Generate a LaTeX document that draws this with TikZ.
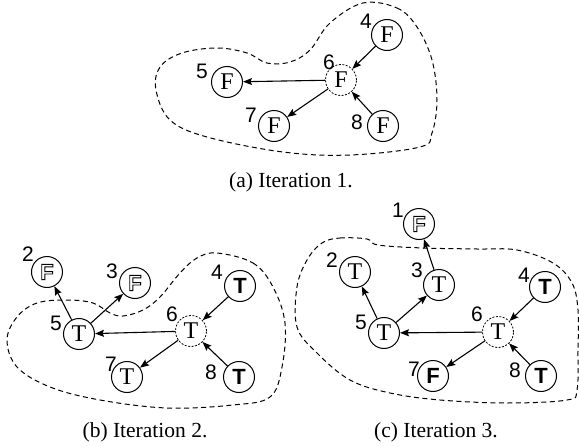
\documentclass[tikz,border=0pt]{standalone}
\usepackage{fontspec}
\setmainfont{Liberation Serif}
\setsansfont{Liberation Sans}
\usetikzlibrary{arrows.meta}
\newcommand{\hollowF}{\special{pdf:literal direct 1 Tr 0.9 w}{\sffamily\bfseries F}\special{pdf:literal direct 0 Tr}}
\begin{document}
\begin{tikzpicture}[x=1pt,y=-1pt,
  nd/.style={circle,draw,line width=1pt,minimum size=31pt,inner sep=0pt,font=\fontsize{24}{24}\selectfont},
  dnd/.style={nd,dash pattern=on 2pt off 1.5pt,line width=0.8pt},
  bd/.style={nd,font=\fontsize{22}{22}\selectfont\sffamily\bfseries},
  hf/.style={nd,font=\fontsize{22}{22}\selectfont},
  arr/.style={-{Stealth[length=9pt,width=7pt,inset=1.5pt]},line width=1.1pt},
  blob/.style={dash pattern=on 5pt off 3.5pt,line width=1pt},
  lab/.style={inner sep=0pt,font=\sffamily\fontsize{21}{21}\selectfont},
  capt/.style={inner sep=0pt,font=\fontsize{21.5}{22}\selectfont}]
\useasboundingbox (0,0) rectangle (579,447);
% ---------- (a)
\draw[blob] plot[smooth cycle,tension=0.6] coordinates {
 (363,3) (397,8) (417,27) (432,60) (437,100) (432,133) (420,147) (350,155) (283,152)
 (207,137) (170,120) (156,90) (160,67) (182,53) (217,48) (247,53) (267,63) (290,62)
 (310,50) (330,23)};
\node[nd] (a4) at (387,35) {F};
\node[dnd] (a6) at (341,80) {F};
\node[nd] (a5) at (227,82) {F};
\node[nd] (a7) at (274,126) {F};
\node[nd] (a8) at (383,126) {F};
\node[lab] (a4l) at ([shift={(-21,-14)}]a4) {4};
\node[lab] (a6l) at ([shift={(-12,-18)}]a6) {6};
\node[lab] (a5l) at ([shift={(-25,-11)}]a5) {5};
\node[lab] (a7l) at ([shift={(-23,-11)}]a7) {7};
\node[lab] (a8l) at ([shift={(-26,-4)}]a8) {8};
\draw[arr] (a4) -- (a6);
\draw[arr] (a8) -- (a6);
\draw[arr] (a6) -- (a5);
\draw[arr] (a6) -- (a7);
\node[capt] (capa) at (291,182) {(a) Iteration 1.};
% ---------- (b)
\draw[blob] plot[smooth cycle,tension=0.6] coordinates {
 (217,253) (253,263) (273,287) (285,323) (282,367) (270,397) (233,405) (167,408)
 (100,400) (50,387) (17,367) (7,340) (17,317) (37,303) (67,300) (93,303) (110,313)
 (123,316) (143,310) (160,297) (180,273) (197,258)};
\node[hf] (b2) at (47,272) {\hollowF};
\node[hf] (b3) at (135,283) {\hollowF};
\node[bd] (b4) at (240,286) {T};
\node[nd] (b5) at (79,334) {T};
\node[dnd] (b6) at (191,331) {T};
\node[nd] (b7) at (127,377) {T};
\node[bd] (b8) at (239,377) {T};
\node[lab] (b2l) at ([shift={(-19,-18)}]b2) {2};
\node[lab] (b3l) at ([shift={(-23,-12)}]b3) {3};
\node[lab] (b4l) at ([shift={(-23,-14)}]b4) {4};
\node[lab] (b5l) at ([shift={(-23,-11)}]b5) {5};
\node[lab] (b6l) at ([shift={(-19,-17)}]b6) {6};
\node[lab] (b7l) at ([shift={(-16,-13)}]b7) {7};
\node[lab] (b8l) at ([shift={(-28,-5)}]b8) {8};
\draw[arr] (b4) -- (b6);
\draw[arr] (b8) -- (b6);
\draw[arr] (b6) -- (b5);
\draw[arr] (b6) -- (b7);
\draw[arr] (b5) -- (b2);
\draw[arr] (b5) -- (b3);
\node[capt] (capb) at (145,432) {(b) Iteration 2.};
% ---------- (c)
\draw[blob] plot[smooth cycle,tension=0.6] coordinates {
 (322,243) (340,238) (367,239) (378,245) (423,248) (477,249) (517,250) (553,263)
 (572,283) (578,310) (578,350) (577,390) (567,400) (507,403) (440,400) (390,393)
 (350,380) (317,353) (297,327) (297,287) (307,260)};
\node[hf] (c1) at (419,224) {\hollowF};
\node[nd] (c2) at (355,272) {T};
\node[nd] (c3) at (439,285) {T};
\node[bd] (c4) at (545,287) {T};
\node[nd] (c5) at (384,333) {T};
\node[dnd] (c6) at (498,332) {T};
\node[bd] (c7) at (433,376) {F};
\node[bd] (c8) at (541,376) {T};
\node[lab] (c1l) at ([shift={(-21,-14)}]c1) {1};
\node[lab] (c2l) at ([shift={(-23,-12)}]c2) {2};
\node[lab] (c3l) at ([shift={(-22,-15)}]c3) {3};
\node[lab] (c4l) at ([shift={(-21,-12)}]c4) {4};
\node[lab] (c5l) at ([shift={(-23,-11)}]c5) {5};
\node[lab] (c6l) at ([shift={(-21,-18)}]c6) {6};
\node[lab] (c7l) at ([shift={(-19,-7)}]c7) {7};
\node[lab] (c8l) at ([shift={(-26,-6)}]c8) {8};
\draw[arr] (c4) -- (c6);
\draw[arr] (c8) -- (c6);
\draw[arr] (c6) -- (c5);
\draw[arr] (c6) -- (c7);
\draw[arr] (c5) -- (c2);
\draw[arr] (c5) -- (c3);
\draw[arr] (c3) -- (c1);
\node[capt] (capc) at (436,432) {(c) Iteration 3.};
\end{tikzpicture}
\end{document}
